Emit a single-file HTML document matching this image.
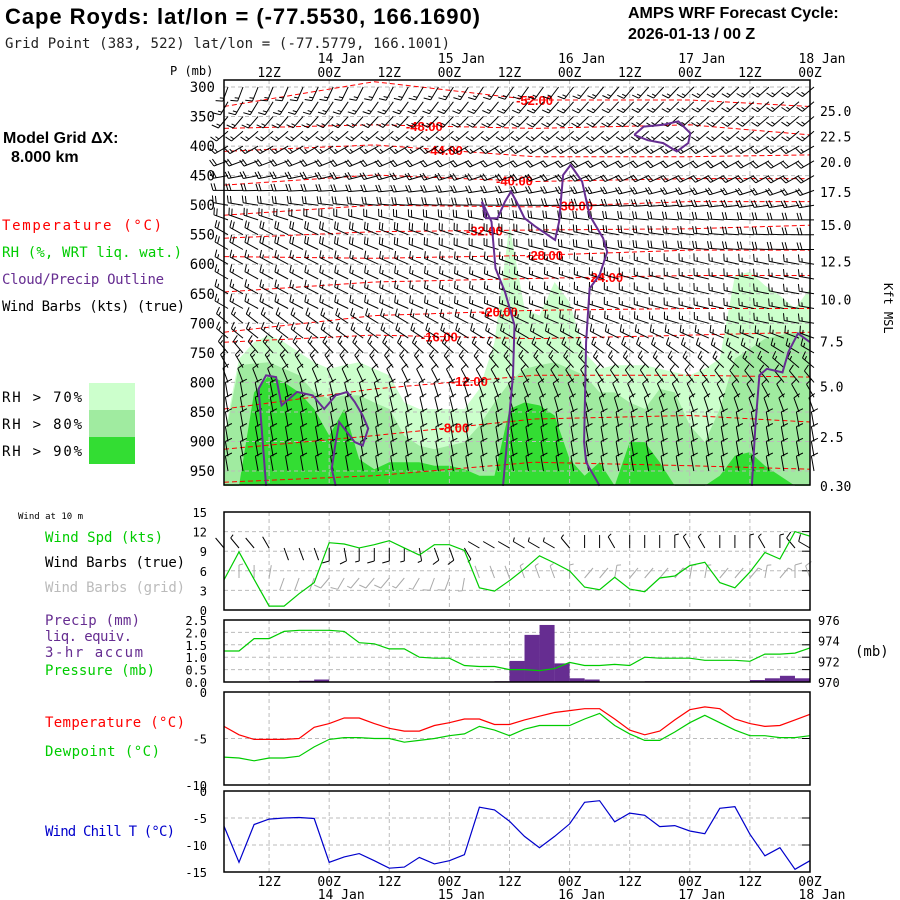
<!DOCTYPE html>
<html><head><meta charset="utf-8"><style>
html,body{margin:0;padding:0;background:#fff;}
svg{display:block;}
text{font-family:"DejaVu Sans Mono","Liberation Mono",monospace;}
.t{font-family:"Liberation Sans",sans-serif;}
</style></head><body>
<svg id="chart" width="900" height="900" viewBox="0 0 900 900" xmlns="http://www.w3.org/2000/svg">
<g id="static">
<text class="t" x="5" y="24" font-size="22" font-weight="bold" textLength="475">Cape Royds:  lat/lon = (-77.5530, 166.1690)</text>
<text x="5" y="48" font-size="14" fill="#222" textLength="445">Grid Point (383, 522) lat/lon = (-77.5779, 166.1001)</text>
<text class="t" x="628" y="18" font-size="16" font-weight="bold">AMPS WRF Forecast Cycle:</text>
<text class="t" x="628" y="39" font-size="16" font-weight="bold">2026-01-13 / 00  Z</text>
<text x="170" y="75" font-size="12">P (mb)</text>
<text class="t" x="3" y="143" font-size="16" font-weight="bold">Model Grid ΔX:</text>
<text class="t" x="11" y="162" font-size="16" font-weight="bold">8.000 km</text>
<text x="2" y="230" font-size="14" fill="#f00" textLength="160">Temperature (°C)</text>
<text x="2" y="257" font-size="14" fill="#0c0" textLength="180">RH (%, WRT liq. wat.)</text>
<text x="2" y="284" font-size="14" fill="#662d91" textLength="162">Cloud/Precip Outline</text>
<text x="2" y="311" font-size="14" textLength="183">Wind Barbs (kts) (true)</text>
<rect x="89" y="383" width="46" height="27" fill="#ccffcc"/>
<rect x="89" y="410" width="46" height="27" fill="#a0eba0"/>
<rect x="89" y="437" width="46" height="27" fill="#33dd33"/>
<text x="2" y="402" font-size="14" textLength="80">RH &gt; 70%</text>
<text x="2" y="429" font-size="14" textLength="80">RH &gt; 80%</text>
<text x="2" y="456" font-size="14" textLength="80">RH &gt; 90%</text>
<text x="18" y="519" font-size="9">Wind at 10 m</text>
<text x="45" y="542" font-size="14" fill="#0c0" textLength="118">Wind Spd (kts)</text>
<text x="45" y="567" font-size="14" textLength="140">Wind Barbs (true)</text>
<text x="45" y="592" font-size="14" fill="#bbb" textLength="140">Wind Barbs (grid)</text>
<text x="45" y="625" font-size="14" fill="#662d91" textLength="95">Precip (mm)</text>
<text x="45" y="641" font-size="14" fill="#662d91" textLength="87">liq. equiv.</text>
<text x="45" y="657" font-size="14" fill="#662d91" textLength="98">3-hr accum</text>
<text x="45" y="675" font-size="14" fill="#0c0" textLength="110">Pressure (mb)</text>
<text x="855" y="656" font-size="14">(mb)</text>
<text x="45" y="727" font-size="14" fill="#f00" textLength="140">Temperature (°C)</text>
<text x="45" y="756" font-size="14" fill="#0c0" textLength="115">Dewpoint (°C)</text>
<text x="45" y="836" font-size="14" fill="#0000cc" textLength="130">Wind Chill T (°C)</text>
<text x="0" y="0" font-size="12" transform="translate(884,283) rotate(90)">Kft MSL</text>
</g>
<g id="dyn"></g>
</svg>
<script>
// ---- data ----
const hours = [0,3,6,9,12,15,18,21,24,27,30,33,36,39,42,45,48,51,54,57,60,63,66,69,72,75,78,81,84,87,90,93,96,99,102,105,108,111,114,117];
const timeTickHours = [9,21,33,45,57,69,81,93,105,117];
const timeTickLabels = ["12Z","00Z","12Z","00Z","12Z","00Z","12Z","00Z","12Z","00Z"];
const dateHours = [21,45,69,93,117];
const dateLabels = ["14 Jan","15 Jan","16 Jan","17 Jan","18 Jan"];
const pressureTicks = [300,350,400,450,500,550,600,650,700,750,800,850,900,950];
const kftLabels = ["25.0","22.5","20.0","17.5","15.0","12.5","10.0","7.5","5.0","2.5","0.30"];
const kftPressures = [341,384,427,478,534,595,660,731,807,892,975];
const rh70 = [890,760,732,720,732,749,766,777,771,766,777,788,834,845,845,845,845,811,732,534,675,687,630,664,749,777,771,771,771,777,783,788,777,760,619,613,636,653,675,641];
const rh80 = [901,771,768,766,777,788,817,828,822,822,834,845,890,907,913,907,901,873,834,800,777,771,766,777,788,817,817,834,845,811,817,873,901,845,760,743,726,720,715,720];
const rh90 = [975,975,817,788,800,817,845,890,845,930,947,935,935,935,941,941,947,958,958,845,834,839,856,930,958,935,975,901,901,935,975,975,975,958,924,918,941,958,975,975];
const isoHours = [0,30,62,93,117];
const isoLabels = ["-52.00","-48.00","-44.00","-40.00","-36.00","-32.00","-28.00","-24.00","-20.00","-16.00","-12.00","-8.00",""];
const isoLabelHours = [62,40,44,58,70,52,64,76,55,43,49,46,0];
const isoP = [
 [333,291,322,322,333],[370,364,370,364,381],[409,398,418,418,415],[466,449,460,455,455],
 [517,500,503,494,494],[556,545,542,540,534],[587,590,585,576,576],[647,630,624,619,619],
 [715,687,678,675,675],[732,720,726,720,715],[845,811,788,788,791],[913,890,862,856,867],[969,958,935,941,947]];
const cloudH = [
 [8.4,6.9,8.4,10.4,11.5,14.6,17.7,20,22.3,24.6,26.1,27.7,28.8,27.7,26.1,23,22.3,21.5,22.3],
 [55.7,56.5,57.7,58,56.1,54.2,53.4,51.5,52.3,54.6,56.1,57.3,58.4,60,62.3,66.1,66.9,67.7,69.2,71.5,73,75.7,76.5,75,73,72.3,71.9,72.3,75],
 [81.9,83.8,87.7,90.7,93.1,92.7,90.4,87.7,84.6,81.9],
 [105.4,106.1,106.9,108.4,111.5,112.7,114.6,117]];
const cloudP = [
 [975,811,788,791,839,816,822,845,822,816,833,856,878,907,901,867,901,946,975],
 [975,901,788,703,647,607,528,494,522,522,494,477,494,522,537,559,528,449,432,460,517,556,579,618,641,732,901,935,975],
 [381,367,364,358,378,395,409,395,390,381],
 [975,873,788,777,783,748,717,732]];
const barbLevels = [300,325,350,375,400,425,450,475,500,525,550,575,600,625,650,675,700,725,750,775,800,825,850,875,900,925,950];
const barbDirEarly = [200,210,220,230,240,250,260,270,280,290,300,300,300,300,300,300,310,310,320,330,340,350,350,350,350,350,350];
const barbDirLate = [230,230,230,230,240,240,240,250,260,270,270,270,280,280,280,280,280,290,300,310,320,330,340,350,350,350,350];
const barbSpd = [15,15,15,15,15,20,20,20,20,20,20,20,15,15,15,15,15,15,15,15,10,10,10,10,10,10,10];
const windSpd = [4.6,8.9,4.7,0.6,0.6,2.5,4.2,10.3,10.1,9.5,10,10.6,9.5,8.4,10,10,9.1,3.4,2.9,4.5,6.3,8.3,7.2,6.0,3.5,3.1,5.0,3.2,2.8,4.9,5.2,6.8,7.3,4.2,3.4,5.8,8.8,7.8,12.0,11.3];
const windDir10 = [320,320,320,330,160,160,160,180,170,180,180,180,180,170,160,160,150,300,300,300,300,300,300,320,0,0,330,0,0,0,0,330,330,0,0,0,330,0,320,300];
const windTicks = [0,3,6,9,12,15];
const precip = [0,0,0,0.03,0.03,0.05,0.1,0,0,0,0,0,0,0,0,0,0,0,0.03,0.85,1.9,2.3,0.75,0.15,0.1,0,0,0,0.03,0.03,0.03,0,0,0,0,0.08,0.15,0.25,0.15];
const pressure = [973.0,973.0,974.2,974.2,974.9,975.0,975.0,975.0,974.9,973.8,973.7,973.2,973.2,972.4,972.3,972.3,971.6,971.5,971.5,971.2,971.2,971.1,971.3,971.9,971.6,971.6,971.7,971.6,972.4,972.3,972.3,972.3,972.1,972.1,972.1,972.0,972.7,972.7,972.8,973.3];
const precipTicks = ["0.0","0.5","1.0","1.5","2.0","2.5"];
const presTicks = [970,972,974,976];
const temp = [-3.7,-4.6,-5.1,-5.1,-5.1,-5.0,-3.8,-3.4,-2.8,-2.8,-3.4,-3.9,-4.2,-4.2,-3.6,-3.3,-2.9,-2.9,-3.5,-3.5,-3.0,-2.6,-2.2,-2.0,-1.8,-1.8,-2.9,-4.1,-4.6,-4.2,-3.0,-1.9,-1.6,-1.8,-2.9,-3.4,-3.7,-3.6,-3.0,-2.4];
const dew = [-7.0,-7.1,-7.4,-7.1,-7.1,-6.9,-5.9,-5.1,-4.9,-4.9,-5.0,-5.0,-5.4,-5.2,-5.0,-4.7,-4.5,-3.7,-4.1,-4.7,-4.0,-3.6,-3.6,-3.6,-2.9,-2.3,-3.6,-4.5,-5.2,-5.2,-4.3,-3.3,-2.5,-3.3,-4.1,-4.7,-4.7,-4.9,-4.9,-4.7];
const tempTicks = [0,-5,-10];
const windChill = [-6.5,-13.2,-6.2,-5.2,-5.0,-4.9,-5.1,-13.2,-12.2,-11.6,-12.9,-14.3,-14.1,-12.3,-13.5,-12.9,-11.8,-3.0,-3.5,-5.6,-8.4,-10.5,-8.4,-6.1,-2.1,-1.8,-5.7,-4.1,-4.5,-6.6,-6.4,-7.4,-7.9,-3.2,-2.9,-8.0,-12.0,-10.5,-14.5,-12.9];
const wcTicks = [0,-5,-10,-15];

// ---- scales ----
const X0=224, X1=810;
const xh = h => X0 + h*(X1-X0)/117;
const yp = p => 87 + (p-300)*0.5908;
const lin = (v0,v1,y0,y1) => v => y0 + (v-v0)*(y1-y0)/(v1-v0);
const yWind = lin(0,15,610,512);
const yPrecip = lin(0,2.5,682,620);
const yPres = lin(970,976,682,620);
const yTemp = lin(0,-10,692,785);
const yWC = lin(0,-15,791,872);

const NS="http://www.w3.org/2000/svg";
const dyn=document.getElementById('dyn');
function mk(tag, attrs, parent){const e=document.createElementNS(NS,tag);for(const k in attrs)e.setAttribute(k,attrs[k]);(parent||dyn).appendChild(e);return e;}

const PT=80, PB=485;
let g=mk('g',{});


function areaPath(arr){let d='M'+xh(0)+','+PB;arr.forEach((p,i)=>{d+=' L'+xh(hours[i]).toFixed(1)+','+yp(Math.min(p,975)).toFixed(1);});d+=' L'+xh(117)+','+PB+' Z';return d;}
let a=mk('path',{d:areaPath(rh70),fill:'#ccffcc'},g);


a=mk('path',{d:areaPath(rh80),fill:'#a0eba0'},g);


a=mk('path',{d:areaPath(rh90),fill:'#33dd33'},g);


timeTickHours.forEach(h=>{const l=mk('line',{x1:xh(h),x2:xh(h),y1:PT,y2:PB,stroke:'#bbb','stroke-dasharray':'4,3'},g);

});
pressureTicks.forEach(p=>{const l=mk('line',{x1:X0,x2:X1,y1:yp(p),y2:yp(p),stroke:'#bbb','stroke-dasharray':'4,3'},g);


const t=mk('text',{x:215,y:yp(p)+5,'font-size':14,'text-anchor':'end'},g);t.textContent=p;

});
kftLabels.forEach((s,i)=>{const t=mk('text',{x:820,y:yp(kftPressures[i])+5,'font-size':13},g);t.textContent=s;

});
isoP.forEach((ps,k)=>{let d='';ps.forEach((p,i)=>{d+=(i?' L':'M')+xh(isoHours[i]).toFixed(1)+','+yp(p).toFixed(1);});
const l=mk('path',{d:d,fill:'none',stroke:'#f00','stroke-width':1,'stroke-dasharray':'5,3'},g);


if(isoLabels[k]){const h=isoLabelHours[k];let j=0;while(j<isoHours.length-2&&isoHours[j+1]<h)j++;
const f=(h-isoHours[j])/(isoHours[j+1]-isoHours[j]);const p=ps[j]+f*(ps[j+1]-ps[j]);
const t=mk('text',{x:xh(h),y:yp(p)+5,'font-size':13,'font-weight':'bold',fill:'#f00','text-anchor':'middle',class:'t'},g);t.textContent=isoLabels[k];

}});
function barb(x,y,dir,spd,col,par,len){len=len||15;const r=dir*Math.PI/180;const dx=Math.sin(r),dy=-Math.cos(r);
const ex=x+dx*len,ey=y+dy*len;let d='M'+x.toFixed(1)+','+y.toFixed(1)+' L'+ex.toFixed(1)+','+ey.toFixed(1);
const px=-dy,py=dx;let s=spd,k=0;while(s>=10){const bx=ex-dx*k*3,by=ey-dy*k*3;d+=' M'+bx.toFixed(1)+','+by.toFixed(1)+' l'+(px*7+dx*2).toFixed(1)+','+(py*7+dy*2).toFixed(1);s-=10;k++;}
if(s>=5){const bx=ex-dx*k*3,by=ey-dy*k*3;d+=' M'+bx.toFixed(1)+','+by.toFixed(1)+' l'+(px*4+dx*1).toFixed(1)+','+(py*4+dy*1).toFixed(1);}
return mk('path',{d:d,fill:'none',stroke:col,'stroke-width':1},par);}
barbLevels.forEach((p,r)=>{hours.forEach((h,i)=>{const f=i/39;const dir=barbDirEarly[r]*(1-f)+barbDirLate[r]*f;
const b=barb(xh(h)+4,yp(p),dir,barbSpd[r],'#000',g);

});});
cloudH.forEach((hs,k)=>{let d='';hs.forEach((h,i)=>{d+=(i?' L':'M')+xh(h).toFixed(1)+','+yp(cloudP[k][i]).toFixed(1);});
const l=mk('path',{d:d,fill:'none',stroke:'#662d91','stroke-width':2},g);

});
a=mk('rect',{x:X0,y:PT,width:X1-X0,height:PB-PT,fill:'none',stroke:'#000','stroke-width':1.5},g);


timeTickHours.forEach((h,i)=>{const t=mk('text',{x:xh(h),y:77,'font-size':13,'text-anchor':'middle'});t.textContent=timeTickLabels[i];

});
dateHours.forEach((h,i)=>{const t=mk('text',{x:xh(h)+12,y:63,'font-size':13,'text-anchor':'middle'});t.textContent=dateLabels[i];

});

function panel(name,top,bot){const pg=mk('g',{});
timeTickHours.forEach(h=>{mk('line',{x1:xh(h),x2:xh(h),y1:top,y2:bot,stroke:'#bbb','stroke-dasharray':'4,3'},pg);});
return pg;}
function hgrid(pg,y,left){mk('line',{x1:X0,x2:X1,y1:y,y2:y,stroke:'#bbb','stroke-dasharray':'4,3'},pg);
mk('line',{x1:X1-8,x2:X1,y1:y,y2:y,stroke:'#000'},pg);
const t=mk('text',{x:207,y:y+5,'font-size':12,'text-anchor':'end'},pg);t.textContent=left;

}
function frame(pg,top,bot){const r=mk('rect',{x:X0,y:top,width:X1-X0,height:bot-top,fill:'none',stroke:'#000','stroke-width':1.5},pg);

}
function line(pg,vals,yf,col,name){let d='';vals.forEach((v,i)=>{d+=(i?' L':'M')+xh(hours[i]).toFixed(1)+','+yf(v).toFixed(1);});
const l=mk('path',{d:d,fill:'none',stroke:col,'stroke-width':1.2},pg);

}

let pw=panel('wind-panel',512,610);

windTicks.forEach(v=>hgrid(pw,yWind(v),String(v)));
hours.forEach((h,i)=>{const b=barb(xh(h),578,(windDir10[i]+40)%360,windSpd[i],'#aaa',pw,13);


const b2=barb(xh(h),548,windDir10[i],windSpd[i],'#000',pw,13);

});
line(pw,windSpd,yWind,'#0c0','wind-speed-line');
frame(pw,512,610);

let pp=panel('precip-pressure-panel',620,682);

precipTicks.forEach((s,i)=>hgrid(pp,yPrecip(i*0.5),s));
presTicks.forEach(v=>{const t=mk('text',{x:818,y:yPres(v)+5,'font-size':12},pp);t.textContent=v;

});
precip.forEach((v,i)=>{if(v<=0)return;const r=mk('rect',{x:xh(hours[i]),y:yPrecip(v),width:xh(3)-xh(0),height:yPrecip(0)-yPrecip(v),fill:'#662d91'},pp);

});
line(pp,pressure,yPres,'#0c0','pressure-line');
frame(pp,620,682);

let pt=panel('temperature-panel',692,785);

tempTicks.forEach(v=>hgrid(pt,yTemp(v),String(v)));
line(pt,temp,yTemp,'#f00','temperature-line');
line(pt,dew,yTemp,'#0c0','dewpoint-line');
frame(pt,692,785);

let pc=panel('wind-chill-panel',791,872);

wcTicks.forEach(v=>hgrid(pc,yWC(v),String(v)));
line(pc,windChill,yWC,'#0000cc','wind-chill-line');
frame(pc,791,872);

timeTickHours.forEach((h,i)=>{const t=mk('text',{x:xh(h),y:886,'font-size':13,'text-anchor':'middle'});t.textContent=timeTickLabels[i];

});
dateHours.forEach((h,i)=>{const t=mk('text',{x:xh(h)+12,y:899,'font-size':13,'text-anchor':'middle'});t.textContent=dateLabels[i];

});
</script>
</body></html>
